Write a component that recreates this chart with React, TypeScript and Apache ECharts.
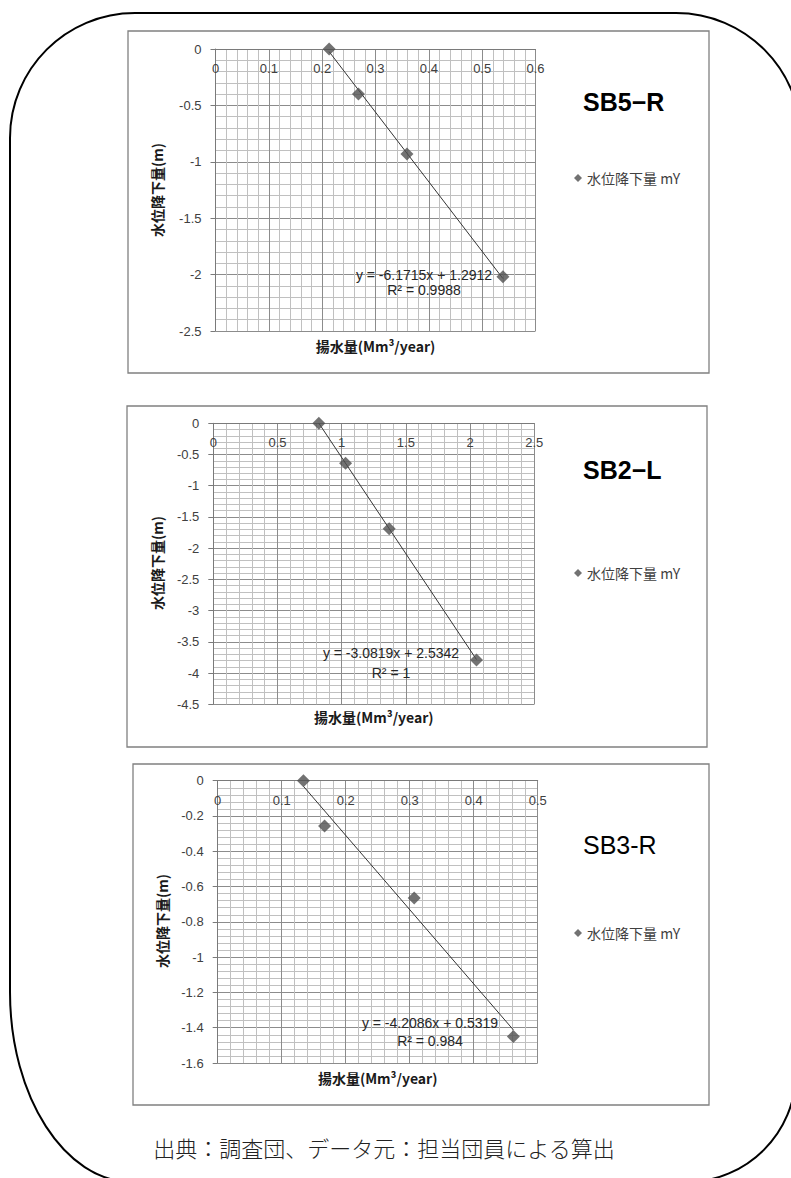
import React, { useEffect, useRef } from "react";
import * as echarts from "echarts";

// ---- data ----
const LEGEND_NAME = "水位降下量 mY";
const X_AXIS_NAME = "揚水量(Mm³/year)";
const Y_AXIS_NAME = "水位降下量(m)";
const FOOTER = "出典：調査団、データ元：担当団員による算出";

const TITLES = ["SB5−R", "SB2−L", "SB3-R"];

const SB5_X = [0.213, 0.268, 0.359, 0.539];
const SB5_Y = [0, -0.4, -0.93, -2.02];
const SB2_X = [0.822, 1.03, 1.37, 2.05];
const SB2_Y = [0, -0.64, -1.69, -3.79];
const SB3_X = [0.134, 0.167, 0.307, 0.462];
const SB3_Y = [0, -0.257, -0.665, -1.45];

const SLOPES = [-6.1715, -3.0819, -4.2086];
const INTERCEPTS = [1.2912, 2.5342, 0.5319];
const EQUATIONS = ["y = -6.1715x + 1.2912", "y = -3.0819x + 2.5342", "y = -4.2086x + 0.5319"];
const R2_TEXT = ["R² = 0.9988", "R² = 1", "R² = 0.984"];

const X_MIN = [0, 0, 0];
const X_MAX = [0.6, 2.5, 0.5];
const X_STEP = [0.1, 0.5, 0.1];
const Y_MIN = [-2.5, -4.5, -1.6];
const Y_MAX = [0, 0, 0];
const Y_STEP = [0.5, 0.5, 0.2];

const XS = [SB5_X, SB2_X, SB3_X];
const YS = [SB5_Y, SB2_Y, SB3_Y];

// ---- layout ----
const GRIDS = [
  { left: 215.5, top: 49, width: 320, height: 282 },
  { left: 213.3, top: 423.3, width: 321, height: 281 },
  { left: 217.7, top: 780.7, width: 320, height: 282.3 },
];
const BOXES = [
  { x: 128, y: 31, w: 581, h: 342 },
  { x: 127, y: 406, w: 580, h: 341 },
  { x: 133, y: 764, w: 576, h: 341 },
];
const TITLE_POS = [
  { x: 583, y: 102, bold: true },
  { x: 583, y: 470, bold: true },
  { x: 583, y: 845, bold: false },
];
const LEGEND_Y = [180, 575, 935];
const YNAME_POS = [
  { x: 157, y: 190 },
  { x: 157, y: 563 },
  { x: 162, y: 921 },
];
const XNAME_Y = [346, 717, 1078];
const EQ_POS = [
  { x: 424, y1: 275, y2: 290 },
  { x: 391, y1: 653, y2: 673 },
  { x: 430, y1: 1023, y2: 1041 },
];

const FRAME_PATH =
  "M 135 13 L 676 13 C 745 13 801 69 801 138 L 796 1072 C 796 1133 747 1182 686 1182 " +
  "L 132 1182 C 65 1182 10 1097 10 992 L 10 138 C 10 69 66 13 135 13 Z";

let registered = false;

export default function App() {
  const ref = useRef<HTMLDivElement>(null);

  useEffect(() => {
    document.body.style.margin = "0";
    if (!registered) {
      echarts.graphic.registerShape("frame", echarts.graphic.extendPath(FRAME_PATH, {}));
      registered = true;
    }
    const chart = echarts.init(ref.current!, null, { renderer: "svg" });

    const numFont = "Liberation Sans";
    const cjkFont = "Noto Sans CJK JP";

    const xAxis = [0, 1, 2].map((i) => ({
      type: "value",
      gridIndex: i,
      min: X_MIN[i],
      max: X_MAX[i],
      interval: X_STEP[i],
      position: "top",
      axisLine: { show: true, onZero: false, lineStyle: { color: "#7a7a7a", width: 1 } },
      axisTick: { show: false },
      axisLabel: { inside: true, margin: 13, color: "#404040", fontSize: 13, fontFamily: numFont },
      splitLine: { show: true, lineStyle: { color: "#8c8c8c", width: 1 } },
      minorTick: { show: false, splitNumber: 5 },
      minorSplitLine: { show: true, lineStyle: { color: "#c0c0c0", width: 1 } },
    }));

    const yAxis = [0, 1, 2].map((i) => ({
      type: "value",
      gridIndex: i,
      min: Y_MIN[i],
      max: Y_MAX[i],
      interval: Y_STEP[i],
      position: "left",
      axisLine: { show: true, onZero: false, lineStyle: { color: "#7a7a7a", width: 1 } },
      axisTick: { show: true, length: 5, lineStyle: { color: "#7a7a7a" } },
      axisLabel: { margin: 14, color: "#404040", fontSize: 13, fontFamily: numFont },
      splitLine: { show: true, lineStyle: { color: "#8c8c8c", width: 1 } },
      minorTick: { show: false, splitNumber: 5 },
      minorSplitLine: { show: true, lineStyle: { color: "#c0c0c0", width: 1 } },
    }));

    const series: any[] = [];
    [0, 1, 2].forEach((i) => {
      const xs = XS[i];
      const ys = YS[i];
      const x0 = Math.min(...xs);
      const x1 = Math.max(...xs);
      series.push({
        type: "line",
        name: "trend" + i,
        xAxisIndex: i,
        yAxisIndex: i,
        data: [
          [x0, SLOPES[i] * x0 + INTERCEPTS[i]],
          [x1, SLOPES[i] * x1 + INTERCEPTS[i]],
        ],
        symbol: "none",
        lineStyle: { color: "#333333", width: 1 },
        silent: true,
        z: 2,
      });
      series.push({
        type: "scatter",
        name: LEGEND_NAME,
        xAxisIndex: i,
        yAxisIndex: i,
        data: xs.map((x, k) => [x, ys[k]]),
        symbol: "diamond",
        symbolSize: 13,
        itemStyle: { color: "#4f4f4f" },
        z: 3,
      });
    });

    const legend = [0, 1, 2].map((i) => ({
      show: true,
      data: [LEGEND_NAME],
      left: 574,
      top: LEGEND_Y[i] - 9,
      padding: 0,
      icon: "diamond",
      itemWidth: 8,
      itemHeight: 8,
      selectedMode: false,
      textStyle: { fontSize: 14, color: "#404040", fontFamily: cjkFont },
    }));

    const graphic: any[] = [];
    graphic.push({
      type: "frame",
      x: 0,
      y: 0,
      silent: true,
      style: { fill: "none", stroke: "#000000", lineWidth: 2 },
      z: 10,
    });
    BOXES.forEach((b) => {
      graphic.push({
        type: "rect",
        shape: { x: b.x, y: b.y, width: b.w, height: b.h },
        style: { fill: "none", stroke: "#808080", lineWidth: 1.3 },
        silent: true,
      });
    });
    [0, 1, 2].forEach((i) => {
      graphic.push({
        type: "text",
        x: TITLE_POS[i].x,
        y: TITLE_POS[i].y,
        style: {
          text: TITLES[i],
          fill: "#000",
          fontSize: 25,
          fontWeight: TITLE_POS[i].bold ? "bold" : "normal",
          fontFamily: numFont,
          align: "left",
          verticalAlign: "middle",
        },
      });
      graphic.push({
        type: "text",
        x: YNAME_POS[i].x,
        y: YNAME_POS[i].y,
        rotation: Math.PI / 2,
        style: {
          text: Y_AXIS_NAME,
          fill: "#1a1a1a",
          fontSize: 14,
          fontWeight: "bold",
          fontFamily: cjkFont,
          align: "center",
          verticalAlign: "middle",
        },
      });
      const g = GRIDS[i];
      graphic.push({
        type: "text",
        x: g.left + g.width / 2,
        y: XNAME_Y[i],
        style: {
          text: X_AXIS_NAME,
          fill: "#1a1a1a",
          fontSize: 14,
          fontWeight: "bold",
          fontFamily: cjkFont,
          align: "center",
          verticalAlign: "middle",
        },
      });
      graphic.push({
        type: "text",
        x: EQ_POS[i].x,
        y: EQ_POS[i].y1,
        z: 5,
        style: {
          text: EQUATIONS[i],
          fill: "#262626",
          fontSize: 14,
          fontFamily: numFont,
          align: "center",
          verticalAlign: "middle",
        },
      });
      graphic.push({
        type: "text",
        x: EQ_POS[i].x,
        y: EQ_POS[i].y2,
        z: 5,
        style: {
          text: R2_TEXT[i],
          fill: "#262626",
          fontSize: 14,
          fontFamily: numFont,
          align: "center",
          verticalAlign: "middle",
        },
      });
    });
    graphic.push({
      type: "text",
      x: 384,
      y: 1147,
      style: {
        text: FOOTER,
        fill: "#222",
        fontSize: 22,
        fontFamily: cjkFont,
        fontWeight: 300,
        align: "center",
        verticalAlign: "middle",
      },
    });

    chart.setOption({
      animation: false,
      backgroundColor: "#ffffff",
      grid: GRIDS.map((g) => ({ ...g, containLabel: false })),
      xAxis,
      yAxis,
      legend,
      series,
      graphic,
    });

    return () => {
      chart.dispose();
    };
  }, []);

  return <div ref={ref} style={{ width: 791, height: 1178 }} />;
}
